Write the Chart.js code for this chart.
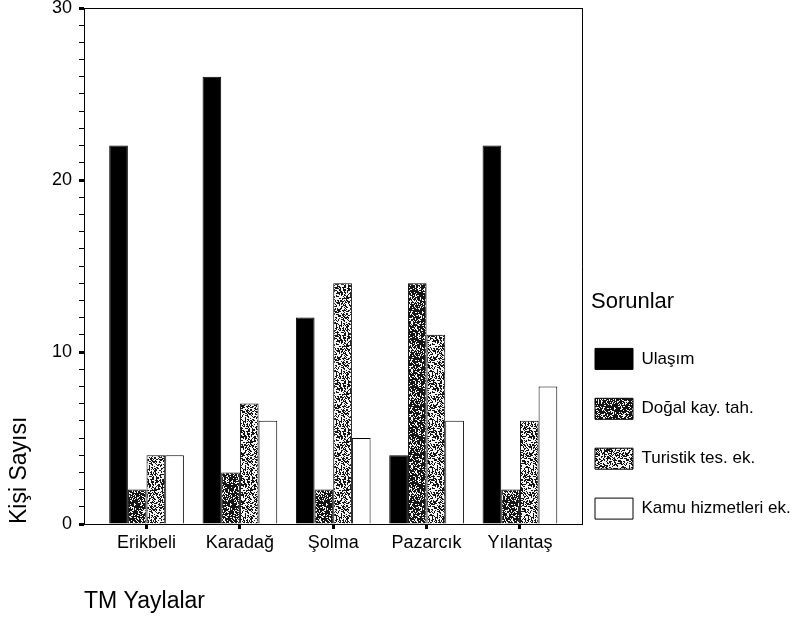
<!DOCTYPE html>
<html lang="tr">
<head>
<meta charset="utf-8">
<title>Sorunlar - TM Yaylalar</title>
<script src="https://cdn.jsdelivr.net/npm/chart.js@4.4.1/dist/chart.umd.min.js"></script>
<style>
    html, body { margin: 0; padding: 0; background: #fff; }
    #wrap { position: relative; width: 806px; height: 621px; }
</style>
</head>
<body>
<div id="wrap"><canvas id="barChart"></canvas></div>
<script>
"use strict";

// yaylalar (x ekseni)
const categories = ['Erikbeli', 'Karadağ', 'Şolma', 'Pazarcık', 'Yılantaş'];

// sorunlar - kişi sayısı
const ulasim = [22, 26, 12, 4, 22];
const dogalKay = [2, 3, 2, 14, 2];
const turistikTes = [4, 7, 14, 11, 6];
const kamuHizmet = [4, 6, 5, 6, 8];

// y ekseni etiketleri
const yTicks = [0, 10, 20, 30];

const FONT = '"Liberation Sans", Arial, sans-serif';
const legendFontSize = 17;
const legendBox = 38;
const legendPad = 4;

// taranmış grafikteki noktalı dokular için desen
function speckle(density, seed) {
    const size = 48;
    const c = document.createElement('canvas');
    c.width = size;
    c.height = size;
    const g = c.getContext('2d');
    const img = g.createImageData(size, size);
    for (let y = 0; y < size; y++) {
        for (let x = 0; x < size; x++) {
            let h = (x * 374761393 + y * 668265263 + seed * 982451653) | 0;
            h = Math.imul(h ^ (h >>> 13), 1274126177);
            const n = ((h ^ (h >>> 16)) >>> 0) / 4294967296;
            const v = n < density ? 20 : 245;
            const i = (y * size + x) * 4;
            img.data[i] = v;
            img.data[i + 1] = v;
            img.data[i + 2] = v;
            img.data[i + 3] = 255;
        }
    }
    g.putImageData(img, 0, 0);
    return g.createPattern(c, 'repeat');
}

const toPoints = arr => arr.map((v, i) => ({ x: i, y: v }));

const datasets = [
    { label: 'Ulaşım', data: toPoints(ulasim), backgroundColor: '#000' },
    { label: 'Doğal kay. tah.', data: toPoints(dogalKay), backgroundColor: speckle(0.72, 1) },
    { label: 'Turistik tes. ek.', data: toPoints(turistikTes), backgroundColor: speckle(0.45, 2) },
    { label: 'Kamu hizmetleri ek.', data: toPoints(kamuHizmet), backgroundColor: '#fff' }
];

// lejant genişliğini ölç, çizim alanı sağda 582'de bitsin
const measureCtx = document.createElement('canvas').getContext('2d');
measureCtx.font = legendFontSize + 'px ' + FONT;
const longest = Math.max(...datasets.map(d => measureCtx.measureText(d.label).width));
const legendWidth = Math.ceil(legendPad + legendBox + legendFontSize / 2 + longest + 2);
const rightPad = Math.max(0, 806 - 582 - 9 - legendWidth);

Chart.defaults.font.family = FONT;
Chart.defaults.color = '#000';

const chartEl = document.getElementById('barChart');

new Chart(chartEl, {
    type: 'bar',
    data: { datasets: datasets },
    options: {
        responsive: true,
        maintainAspectRatio: false,
        animation: false,
        layout: { padding: { left: 0, right: rightPad, top: 0, bottom: 0 } },
        datasets: {
            bar: {
                borderColor: '#000',
                borderWidth: 1,
                categoryPercentage: 0.8,
                barPercentage: 1
            }
        },
        plugins: {
            tooltip: { enabled: false },
            legend: {
                position: 'right',
                align: 'start',
                maxWidth: legendWidth,
                title: {
                    display: true,
                    text: 'Sorunlar',
                    position: 'start',
                    font: { size: 22 },
                    padding: { top: 291, bottom: 27 }
                },
                labels: {
                    boxWidth: legendBox,
                    boxHeight: 21,
                    padding: legendPad,
                    font: { size: legendFontSize, lineHeight: 2.7 },
                    generateLabels: function (chart) {
                        const items = Chart.defaults.plugins.legend.labels.generateLabels(chart);
                        items.forEach(item => { item.text = [item.text]; });
                        return items;
                    }
                }
            }
        },
        scales: {
            x: {
                type: 'linear',
                position: 'bottom',
                min: -0.67,
                max: 4.665,
                bounds: 'data',
                offset: false,
                afterFit: s => { s.height = 97; },
                afterBuildTicks: s => { s.ticks = categories.map((c, i) => ({ value: i })); },
                ticks: {
                    autoSkip: false,
                    maxRotation: 0,
                    padding: 3,
                    font: { size: 18 },
                    callback: v => categories[v] !== undefined ? categories[v] : ''
                },
                grid: {
                    offset: false,
                    drawOnChartArea: false,
                    tickLength: 5,
                    tickWidth: 3,
                    tickColor: '#000'
                },
                border: { color: '#000', width: 1 },
                title: {
                    display: true,
                    text: 'TM Yaylalar',
                    align: 'start',
                    font: { size: 23 },
                    padding: { top: 0, bottom: 6 }
                }
            },
            y: {
                min: 0,
                max: 30,
                afterFit: s => { s.width = 84; },
                ticks: {
                    stepSize: 1,
                    autoSkip: false,
                    padding: 7,
                    font: { size: 18, lineHeight: 0.1 },
                    callback: v => yTicks.includes(v) ? v : ''
                },
                grid: {
                    drawOnChartArea: false,
                    tickLength: 5,
                    tickColor: '#000',
                    tickWidth: c => yTicks.includes(c.tick.value) ? 3 : 1
                },
                border: { color: '#000', width: 1 },
                title: {
                    display: true,
                    text: 'Kişi Sayısı',
                    align: 'start',
                    font: { size: 23 },
                    padding: { top: 6, bottom: 0 }
                }
            },
            xTop: {
                type: 'linear',
                position: 'top',
                min: 0,
                max: 1,
                afterFit: s => { s.height = 8; },
                ticks: { display: false },
                grid: { drawOnChartArea: false, drawTicks: false },
                border: { color: '#000', width: 1 }
            },
            yRight: {
                type: 'linear',
                position: 'right',
                min: 0,
                max: 30,
                afterFit: s => { s.width = 9; },
                ticks: { display: false },
                grid: { drawOnChartArea: false, drawTicks: false },
                border: { color: '#000', width: 1 }
            }
        }
    }
});
</script>
</body>
</html>
